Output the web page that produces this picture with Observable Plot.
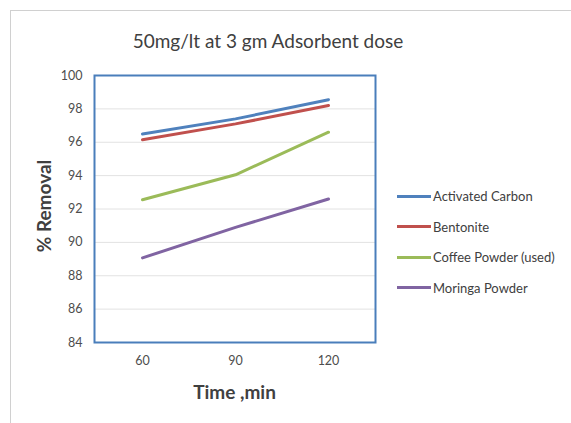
<!DOCTYPE html>
<html>
<head>
<meta charset="utf-8">
<script src="https://cdn.jsdelivr.net/npm/d3@7"></script>
<script src="https://cdn.jsdelivr.net/npm/@observablehq/plot@0.6"></script>
<style>
  html, body { margin: 0; padding: 0; background: #fff; }
  #wrap { position: relative; width: 571px; height: 423px; overflow: hidden; font-family: Lato, "Open Sans", sans-serif; }
  #wrap svg { position: absolute; left: 0; top: 0; }
  .border { position: absolute; left: 10px; top: 10px; width: 570px; height: 430px; border: 1px solid #d0d0d0; box-sizing: border-box; }
  .title { position: absolute; left: 0; width: 536px; top: 29px; text-align: center; font-size: 19px; color: #404040; }
  .xtitle { position: absolute; left: 94px; width: 281px; top: 380px; text-align: center; font-size: 19px; font-weight: bold; color: #404040; }
  .ytitle { position: absolute; left: 43px; top: 206px; transform: translate(-50%, -50%) rotate(-90deg); font-size: 19px; font-weight: bold; color: #404040; white-space: nowrap; }
  .legend { position: absolute; left: 397px; top: 181px; font-size: 13px; color: #404040; }
  .legend div { display: flex; align-items: center; height: 30.5px; }
  .legend span.sw { display: inline-block; width: 34px; height: 3px; margin-right: 2px; }
</style>
</head>
<body>
<div id="wrap">
  <div class="border"></div>
  <div class="title">50mg/lt at 3 gm Adsorbent dose</div>
  <div class="ytitle">% Removal</div>
  <div class="xtitle">Time ,min</div>
  <div class="legend" id="legend"></div>
</div>
<script>
// Contact time (min) on the x axis
const times = ["60", "90", "120"];

// Adsorbents and their line colours
const series = ["Activated Carbon", "Bentonite", "Coffee Powder (used)", "Moringa Powder"];
const colors = ["#4f81bd", "#c0504d", "#9bbb59", "#8064a2"];

// % removal at each contact time
const activatedCarbon = [96.5, 97.4, 98.55];
const bentonite = [96.15, 97.1, 98.2];
const coffeePowder = [92.55, 94.05, 96.6];
const moringaPowder = [89.07, 90.9, 92.6];

const yTicks = [84, 86, 88, 90, 92, 94, 96, 98, 100];

const values = [activatedCarbon, bentonite, coffeePowder, moringaPowder];
const rows = series.flatMap((s, i) => times.map((t, j) => ({series: s, time: t, value: values[i][j]})));

const chart = Plot.plot({
  width: 571,
  height: 423,
  marginLeft: 94,
  marginRight: 196,
  marginTop: 75,
  marginBottom: 81,
  style: {background: "transparent", fontFamily: "Lato, 'Open Sans', sans-serif", fontSize: "12.5px", color: "#4d4d4d"},
  x: {type: "point", domain: times, padding: 0.5, label: null, tickSize: 0, tickPadding: 14},
  y: {domain: [84, 100], ticks: yTicks, label: null, tickSize: 0, tickPadding: 12, tickFormat: d => String(d)},
  color: {domain: series, range: colors},
  marks: [
    Plot.gridY(yTicks, {stroke: "#e2e2e2", strokeOpacity: 1, strokeWidth: 1}),
    Plot.line(rows, {x: "time", y: "value", z: "series", stroke: "series", strokeWidth: 3, curve: "linear"}),
    Plot.frame({stroke: "#4a7ebb", strokeWidth: 2})
  ]
});
document.getElementById("wrap").appendChild(chart);

// Legend
const leg = document.getElementById("legend");
series.forEach((s, i) => {
  const row = document.createElement("div");
  row.innerHTML = `<span class="sw" style="background:${colors[i]}"></span>${s}`;
  leg.appendChild(row);
});
</script>
</body>
</html>
